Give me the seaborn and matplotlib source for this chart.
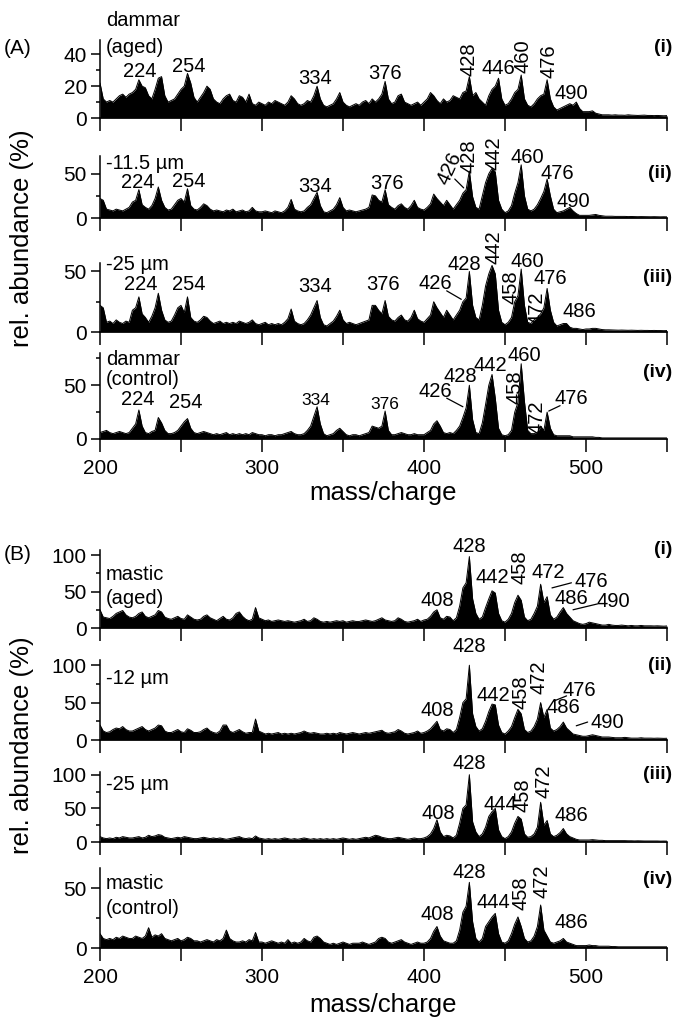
import numpy as np
import pandas as pd
import matplotlib
matplotlib.use("Agg")
import matplotlib.pyplot as plt
import matplotlib.transforms as mtransforms
import seaborn as sns

# ---------------- data ----------------
mz = list(range(200, 551, 2))

dammar_aged = [
    22, 12, 10, 11, 10, 12, 14, 15, 13, 15,
    16, 18, 24, 20, 19, 14, 12, 18, 25, 26,
    14, 10, 11, 12, 15, 18, 20, 28, 22, 13,
    10, 13, 16, 20, 18, 12, 10, 9, 12, 14,
    15, 11, 10, 14, 13, 10, 15, 9, 8, 10,
    9, 8, 10, 9, 11, 10, 9, 8, 10, 14,
    12, 9, 8, 9, 11, 10, 14, 20, 12, 8,
    7, 8, 9, 12, 16, 10, 8, 7, 8, 9,
    8, 10, 11, 9, 12, 10, 12, 15, 23, 12,
    9, 10, 14, 15, 10, 9, 8, 9, 10, 8,
    10, 12, 16, 14, 11, 9, 12, 10, 11, 14,
    13, 12, 16, 17, 26, 14, 16, 12, 10, 8,
    14, 18, 20, 25, 12, 8, 9, 12, 16, 18,
    27, 12, 8, 7, 9, 12, 14, 15, 24, 12,
    7, 5, 6, 7, 8, 9, 8, 10, 6, 4,
    4, 4, 4.5, 3, 2.5, 2, 2, 2, 1.8, 2,
    1.8, 1.8, 1.7, 2, 1.8, 1.7, 1.6, 1.7, 1.8, 1.6,
    1.6, 1.5, 1.6, 1.5, 1.4, 1.5,
]

dammar_115 = [
    22, 20, 10, 9, 8, 10, 9, 8, 10, 12,
    18, 20, 32, 15, 12, 10, 14, 22, 35, 20,
    12, 9, 10, 15, 20, 22, 18, 33, 14, 10,
    9, 12, 16, 14, 10, 8, 9, 8, 7, 9,
    8, 10, 7, 8, 9, 7, 8, 12, 8, 7,
    7, 8, 7, 6, 8, 7, 6, 8, 12, 21,
    10, 8, 7, 8, 12, 15, 22, 29, 14, 7,
    6, 8, 10, 15, 23, 12, 8, 9, 8, 7,
    8, 9, 10, 12, 26, 25, 20, 18, 32, 15,
    12, 10, 14, 16, 12, 10, 14, 20, 12, 10,
    9, 12, 16, 27, 22, 18, 14, 20, 15, 10,
    15, 20, 28, 32, 53, 24, 12, 10, 25, 40,
    50, 56, 52, 20, 10, 6, 8, 14, 28, 40,
    60, 25, 10, 8, 10, 15, 22, 30, 44, 25,
    10, 6, 7, 8, 10, 12, 8, 5, 3, 3,
    3, 3, 3.5, 4, 3, 2.5, 2, 2, 2, 1.8,
    1.8, 1.7, 1.8, 1.6, 1.7, 1.6, 1.5, 1.6, 1.5, 1.5,
    1.4, 1.5, 1.4, 1.3, 1.4, 1.3,
]

dammar_25 = [
    22, 20, 8, 9, 7, 10, 8, 7, 9, 8,
    18, 20, 29, 15, 12, 8, 13, 20, 32, 18,
    10, 8, 9, 14, 20, 22, 16, 29, 12, 9,
    8, 10, 13, 12, 9, 7, 8, 9, 7, 8,
    7, 8, 7, 9, 8, 7, 8, 10, 7, 6,
    7, 8, 6, 7, 6, 7, 6, 8, 11, 19,
    9, 7, 6, 7, 10, 14, 20, 26, 12, 6,
    5, 7, 9, 13, 18, 10, 7, 8, 7, 6,
    7, 8, 9, 10, 22, 22, 18, 15, 26, 13,
    10, 9, 12, 14, 10, 9, 12, 18, 11, 9,
    8, 11, 14, 25, 20, 16, 12, 18, 14, 10,
    14, 18, 25, 28, 50, 22, 12, 10, 22, 38,
    48, 55, 48, 18, 8, 6, 8, 12, 25, 30,
    52, 22, 8, 7, 10, 12, 15, 20, 36, 18,
    8, 5, 6, 7, 7, 4, 3, 3, 2.5, 2,
    2.5, 2.5, 3, 3, 2.5, 2, 1.8, 1.8, 1.7, 1.6,
    1.5, 1.6, 1.5, 1.4, 1.5, 1.4, 1.3, 1.4, 1.3, 1.3,
    1.2, 1.3, 1.2, 1.2, 1.1, 1.2,
]

dammar_control = [
    6, 7, 8, 6, 5, 6, 7, 6, 5, 6,
    10, 14, 27, 12, 6, 5, 7, 8, 20, 15,
    8, 5, 5, 6, 8, 12, 16, 19, 10, 6,
    5, 6, 7, 6, 5, 4, 5, 4, 5, 6,
    4, 5, 4, 5, 4, 5, 4, 6, 5, 4,
    4, 3, 4, 4, 3, 4, 4, 5, 6, 7,
    5, 4, 4, 5, 8, 12, 21, 30, 14, 5,
    3, 4, 5, 8, 10, 7, 4, 3, 4, 4,
    3, 4, 5, 6, 12, 11, 10, 12, 26, 8,
    4, 4, 5, 6, 5, 4, 4, 5, 4, 4,
    4, 6, 8, 14, 17, 12, 6, 5, 6, 5,
    8, 12, 20, 29, 50, 18, 6, 5, 15, 32,
    50, 60, 38, 10, 4, 3, 4, 8, 25, 34,
    70, 35, 8, 5, 5, 6, 12, 8, 25, 10,
    4, 3, 3, 3, 3, 3, 2, 2, 2, 2,
    2, 2, 2, 1.5, 1.5, 1, 1, 1, 1, 1,
    1, 1, 1, 1, 1, 1, 1, 1, 1, 1,
    1, 1, 1, 1, 1, 1,
]

mastic_aged = [
    25, 15, 14, 13, 16, 20, 22, 24, 18, 15,
    14, 16, 20, 22, 16, 14, 16, 18, 24, 22,
    15, 13, 12, 14, 16, 13, 12, 18, 15, 12,
    11, 12, 16, 18, 14, 12, 10, 13, 16, 12,
    11, 14, 20, 22, 16, 12, 10, 12, 28, 14,
    12, 10, 11, 9, 10, 11, 10, 9, 10, 9,
    8, 9, 10, 12, 9, 10, 14, 12, 9, 8,
    9, 8, 9, 10, 9, 10, 8, 9, 10, 9,
    9, 10, 11, 10, 9, 10, 12, 14, 11, 10,
    9, 10, 14, 12, 9, 8, 9, 10, 12, 9,
    11, 12, 16, 22, 25, 14, 12, 16, 15, 10,
    14, 30, 55, 62, 98, 40, 20, 12, 15, 28,
    40, 51, 48, 20, 10, 8, 12, 20, 35, 45,
    38, 15, 10, 12, 20, 30, 60, 35, 43, 18,
    12, 15, 22, 28, 20, 15, 10, 8, 6, 5,
    6, 8, 7, 6, 5, 4, 4, 5, 4, 3.5,
    3.5, 4, 3.5, 3, 3.5, 3, 3, 3.5, 3, 3,
    3, 2.8, 3, 2.8, 2.5, 2.8,
]

mastic_12 = [
    20, 12, 10, 11, 14, 16, 15, 18, 14, 12,
    12, 14, 16, 18, 14, 12, 14, 16, 20, 19,
    12, 10, 10, 12, 14, 11, 10, 15, 13, 10,
    10, 11, 14, 16, 12, 10, 9, 12, 20, 20,
    12, 10, 12, 14, 11, 9, 10, 10, 28, 12,
    10, 8, 9, 8, 9, 10, 8, 9, 8, 9,
    8, 9, 10, 12, 10, 9, 10, 9, 8, 8,
    9, 8, 9, 8, 10, 9, 8, 9, 10, 9,
    8, 9, 10, 9, 10, 11, 12, 13, 10, 9,
    10, 11, 14, 12, 9, 8, 9, 10, 12, 9,
    10, 12, 15, 20, 25, 14, 12, 15, 14, 10,
    14, 30, 50, 55, 100, 35, 18, 12, 15, 25,
    38, 48, 47, 20, 10, 8, 12, 18, 30, 41,
    35, 14, 10, 12, 18, 28, 50, 30, 41, 16,
    12, 14, 18, 24, 16, 12, 8, 7, 6, 5,
    5, 6, 7, 6, 5, 4, 4, 4, 3.5, 3,
    3, 3, 3.5, 3, 2.5, 2.5, 2.5, 3, 2.5, 2.5,
    2.5, 2.3, 2.5, 2.3, 2.2, 2.3,
]

mastic_25 = [
    8, 6, 5, 6, 5, 7, 6, 8, 7, 6,
    6, 7, 8, 6, 7, 10, 8, 9, 11, 10,
    7, 6, 5, 6, 7, 6, 8, 7, 6, 5,
    5, 6, 7, 6, 5, 6, 5, 6, 5, 4,
    5, 6, 7, 8, 6, 5, 6, 5, 9, 6,
    5, 4, 5, 4, 5, 4, 5, 6, 5, 4,
    5, 4, 5, 6, 5, 4, 5, 4, 5, 4,
    5, 4, 5, 4, 5, 6, 5, 4, 5, 4,
    5, 6, 7, 6, 8, 10, 9, 7, 6, 5,
    5, 6, 7, 6, 5, 4, 5, 6, 5, 5,
    6, 8, 12, 20, 33, 15, 8, 10, 9, 6,
    10, 28, 50, 55, 100, 30, 15, 8, 12, 22,
    38, 45, 50, 18, 8, 5, 8, 15, 28, 38,
    34, 12, 7, 8, 12, 22, 59, 25, 32, 12,
    8, 10, 14, 20, 12, 8, 6, 4, 3, 3,
    3, 3, 3.5, 3, 2.5, 2.5, 2, 2, 2, 2,
    2, 2, 2, 1.8, 1.8, 1.6, 1.8, 1.6, 1.5, 1.5,
    1.5, 1.4, 1.5, 1.3, 1.4, 1.3,
]

mastic_control = [
    12, 8, 7, 8, 7, 9, 8, 10, 9, 8,
    8, 10, 9, 8, 10, 17, 9, 11, 10, 12,
    8, 7, 6, 7, 8, 6, 7, 9, 8, 6,
    6, 5, 6, 7, 6, 5, 7, 6, 8, 15,
    8, 6, 5, 5, 6, 5, 7, 6, 13, 5,
    5, 4, 5, 6, 5, 4, 5, 4, 7, 4,
    5, 4, 5, 8, 6, 5, 9, 10, 8, 5,
    4, 3, 4, 3, 4, 5, 4, 3, 4, 4,
    4, 5, 4, 3, 4, 5, 8, 9, 8, 5,
    4, 5, 6, 7, 5, 4, 3, 4, 5, 4,
    4, 5, 8, 14, 18, 10, 6, 5, 4, 4,
    6, 15, 30, 35, 55, 22, 8, 5, 8, 18,
    22, 26, 29, 12, 5, 4, 6, 12, 20, 26,
    18, 8, 5, 6, 10, 18, 36, 15, 10, 5,
    4, 5, 6, 8, 5, 4, 3, 2, 2, 2,
    2, 2.5, 2, 2, 1.5, 1.5, 1.5, 1.5, 1.2, 1.2,
    1, 1, 1, 1, 1, 1, 1, 1, 1, 1,
    1, 1, 1, 1, 1, 1,
]

x_tick_values = [200, 300, 400, 500]
panel_tags = ["(i)", "(ii)", "(iii)", "(iv)"]

# ---------------- style ----------------
sns.set_style("ticks")
plt.rcParams["font.family"] = ["Liberation Sans", "DejaVu Sans"]
for key in ("text.color", "axes.labelcolor", "xtick.color", "ytick.color",
            "axes.edgecolor"):
    plt.rcParams[key] = "black"
plt.rcParams["axes.linewidth"] = 1.1

W, H = 674, 1017
fig = plt.figure(figsize=(W / 100, H / 100), dpi=100)

X0, X1 = 100, 667


def rect(top, bot):
    return [X0 / W, 1 - bot / H, (X1 - X0) / W, (bot - top) / H]


FS = 14.5      # peak labels
SIDE_FS = 14.5
TICK_FS = 15

panels = [
    dict(data=dammar_aged, px=(40, 118), ylim=49, major=[0, 20, 40], minor=[10, 30],
         side=[("dammar", 61), ("(aged)", 44)], tag_y=44,
         ann=[("224", 224.5, 29, 0), ("254", 255, 32.5, 0), ("334", 333, 25, 0),
              ("376", 376, 28, 0), ("428", 427.5, 37, 90), ("446", 446, 31, 0),
              ("460", 461, 39, 90), ("476", 477, 36, 90), ("490", 491, 15.5, 0)],
         leaders=[], bottom=False),
    dict(data=dammar_115, px=(156, 218), ylim=70, major=[0, 50], minor=[25],
         side=[("-11.5 \u00b5m", 61)], tag_y=50,
         ann=[("224", 223, 40, 0), ("254", 255, 41, 0), ("334", 333, 35, 0),
              ("376", 377, 39, 0), ("426", 416, 56, 65), ("428", 428, 70, 90),
              ("442", 443, 73, 90), ("460", 464, 68, 0), ("476", 482, 50, 0),
              ("490", 492, 19, 0)],
         leaders=[(419, 44, 424.5, 34)], bottom=False),
    dict(data=dammar_25, px=(263, 332), ylim=57, major=[0, 50], minor=[25],
         side=[("-25 \u00b5m", 55.5)], tag_y=45,
         ann=[("224", 225, 39.5, 0), ("254", 255, 39.5, 0), ("334", 333, 38, 0),
              ("376", 375, 39, 0), ("426", 407, 40, 0), ("428", 425, 56, 0),
              ("442", 443, 70, 90), ("460", 464, 58, 0), ("458", 453.5, 37, 90),
              ("476", 478, 44, 0), ("472", 469.5, 20, 90), ("486", 496, 17, 0)],
         leaders=[(414, 34, 423, 27)], bottom=False),
    dict(data=dammar_control, px=(353, 439), ylim=80, major=[0, 50], minor=[25, 75],
         side=[("dammar", 74), ("(control)", 55)], tag_y=62,
         ann=[("224", 223, 37, 0), ("254", 253, 34, 0), ("334", 333, 36, 0),
              ("376", 376, 32, 0), ("426", 407, 44, 0), ("428", 422.5, 58, 0),
              ("442", 441, 68, 0), ("460", 462, 78, 0), ("458", 456, 48, 90),
              ("472", 470, 20, 90), ("476", 491, 38, 0)],
         leaders=[(414, 38, 424, 30), (484, 31, 477, 26)], bottom=True),
    dict(data=mastic_aged, px=(550, 628), ylim=107, major=[0, 50, 100], minor=[25, 75],
         side=[("mastic", 73), ("(aged)", 40)], tag_y=108,
         ann=[("428", 428, 112, 0), ("442", 442, 69, 0), ("458", 459, 84, 90),
              ("472", 477, 76, 0), ("476", 503, 64, 0), ("486", 491, 40, 0),
              ("490", 517, 37, 0), ("408", 408, 38, 0)],
         leaders=[(491, 62, 479, 55), (492, 25, 507, 33)], bottom=False),
    dict(data=mastic_12, px=(660, 740), ylim=107, major=[0, 50, 100], minor=[25, 75],
         side=[("-12 \u00b5m", 82)], tag_y=100,
         ann=[("428", 428, 125, 0), ("408", 408, 39, 0), ("442", 443, 59, 0),
              ("458", 460, 64, 90), ("472", 471, 84, 90), ("476", 496, 66, 0),
              ("486", 486, 43, 0), ("490", 513, 24, 0)],
         leaders=[(480, 52, 488, 59), (494, 19, 501, 24)], bottom=False),
    dict(data=mastic_25, px=(772, 842), ylim=104, major=[0, 50, 100], minor=[25, 75],
         side=[("-25 \u00b5m", 86)], tag_y=100,
         ann=[("428", 428, 116, 0), ("408", 409, 43, 0), ("444", 447, 55, 0),
              ("458", 461, 70, 90), ("472", 474, 91, 90), ("486", 491, 39, 0)],
         leaders=[], bottom=False),
    dict(data=mastic_control, px=(868, 948), ylim=67, major=[0, 50], minor=[25],
         side=[("mastic", 54), ("(control)", 33)], tag_y=57,
         ann=[("428", 428, 63, 0), ("408", 408, 28, 0), ("444", 443, 38, 0),
              ("458", 460, 46, 90), ("472", 473, 56, 90), ("486", 491, 21, 0)],
         leaders=[], bottom=True),
]

for i, p in enumerate(panels):
    assert len(p["data"]) == len(mz)
    ax = fig.add_axes(rect(*p["px"]))
    df = pd.DataFrame({"mz": mz, "abundance": p["data"]})
    ax.fill_between(df["mz"], df["abundance"], 0, color="black", linewidth=0)
    sns.lineplot(data=df, x="mz", y="abundance", ax=ax, color="black",
                 linewidth=0.7, legend=False)
    ax.set_xlim(200, 550)
    ax.set_ylim(0, p["ylim"])
    ax.set_xlabel("")
    ax.set_ylabel("")
    sns.despine(ax=ax)
    for s in ("left", "bottom"):
        ax.spines[s].set_linewidth(1.1)

    ax.set_xticks(x_tick_values)
    ax.set_xticks([250, 350, 450, 550], minor=True)
    if p["bottom"]:
        ax.set_xticklabels([str(v) for v in x_tick_values])
    else:
        ax.set_xticklabels([])
    ax.tick_params(axis="x", which="both", direction="out", length=9.5, width=1.1,
                   labelsize=TICK_FS, pad=5)
    ax.set_yticks(p["major"])
    ax.set_yticks(p["minor"], minor=True)
    ax.set_yticklabels([str(v) for v in p["major"]])
    ax.tick_params(axis="y", which="major", direction="out", length=6.5, width=1.1,
                   labelsize=TICK_FS, pad=3)
    ax.tick_params(axis="y", which="minor", direction="out", length=3, width=1.1)

    for txt, yv in p["side"]:
        ax.text(203.5, yv, txt, ha="left", va="center", fontsize=SIDE_FS, clip_on=False)
    for txt, xv, yv, rot in p["ann"]:
        fs = 12.5 if (i == 3 and txt in ("334", "376")) else FS
        ax.text(xv, yv, txt, ha="center", va="center", rotation=rot, fontsize=fs,
                clip_on=False, rotation_mode="anchor")
    for x1, y1, x2, y2 in p["leaders"]:
        ax.annotate("", xy=(x2, y2), xytext=(x1, y1),
                    arrowprops=dict(arrowstyle="-", color="black", lw=0.9,
                                    shrinkA=0, shrinkB=0),
                    annotation_clip=False)
    trans = mtransforms.blended_transform_factory(fig.transFigure, ax.transData)
    ax.text(672 / W, p["tag_y"], panel_tags[i % 4], transform=trans, ha="right",
            va="center", fontsize=14, fontweight="bold")

fig.text(18 / W, 1 - 48 / H, "(A)", ha="center", va="center", fontsize=15)
fig.text(18 / W, 1 - 555 / H, "(B)", ha="center", va="center", fontsize=15)
fig.text(22 / W, 1 - 238 / H, "rel. abundance (%)", rotation=90, ha="center",
         va="center", fontsize=18.5)
fig.text(22 / W, 1 - 745 / H, "rel. abundance (%)", rotation=90, ha="center",
         va="center", fontsize=18.5)
fig.text((X0 + X1) / 2 / W, 1 - 493 / H, "mass/charge", ha="center", va="center",
         fontsize=18.5)
fig.text((X0 + X1) / 2 / W, 1 - 1005 / H, "mass/charge", ha="center", va="center",
         fontsize=18.5)

fig.savefig("out.png", dpi=100)
